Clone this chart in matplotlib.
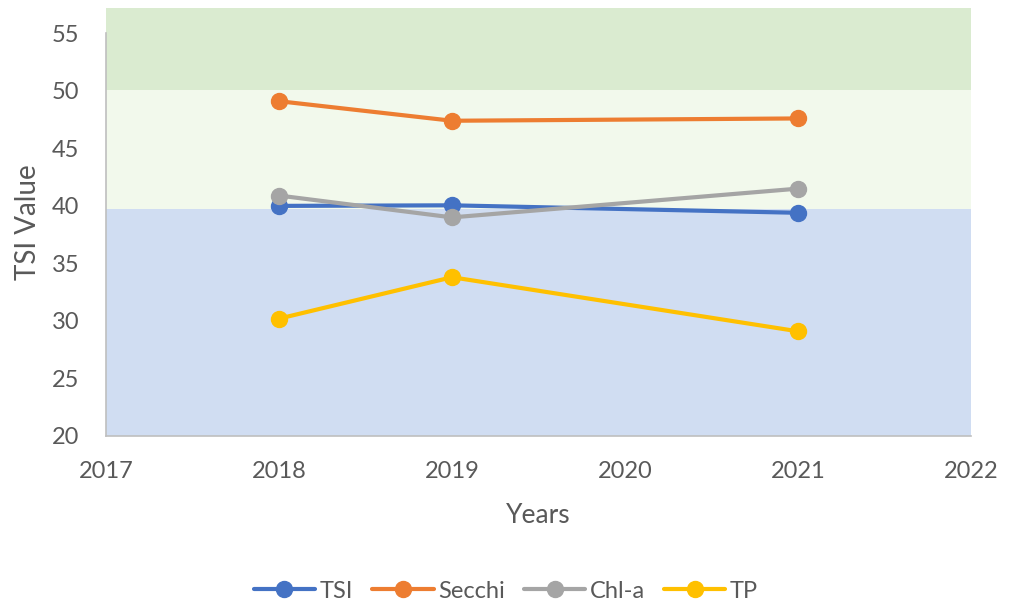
import matplotlib
matplotlib.use("Agg")
import matplotlib.pyplot as plt

years = [2018, 2019, 2021]
tsi = [40.0, 40.05, 39.4]
secchi = [49.1, 47.4, 47.6]
chla = [40.9, 39.0, 41.5]
tp = [30.2, 33.8, 29.1]

series_names = ["TSI", "Secchi", "Chl-a", "TP"]
series_values = [tsi, secchi, chla, tp]
series_colors = ["#4472C4", "#ED7D31", "#A5A5A5", "#FFC000"]

x_ticks = [2017, 2018, 2019, 2020, 2021, 2022]
y_ticks = [20, 25, 30, 35, 40, 45, 50, 55]

# background bands (lower, upper, colour)
bands = [(20, 39.7, "#D0DDF2"), (39.7, 50.1, "#F2F9EC"), (50.1, 57.2, "#DAEBD0")]

plt.rcParams['font.family'] = ['Lato', 'DejaVu Sans']
text_color = "#595959"

fig = plt.figure(figsize=(10.12, 6.04), dpi=100)
ax = fig.add_axes([106/1012, 1-436/604, (971-106)/1012, (436-8)/604])

for lo, hi, c in bands:
    ax.axhspan(lo, hi, color=c, zorder=0, lw=0)

for name, vals, col in zip(series_names, series_values, series_colors):
    ax.plot(years, vals, color=col, lw=3, marker='o', markersize=11.5,
            label=name, zorder=3, solid_capstyle='round')

ax.set_xlim(2017, 2022)
ax.set_ylim(20, 57.2)
ax.set_xticks(x_ticks)
ax.set_yticks(y_ticks)
ax.tick_params(axis='both', length=0, labelsize=17, colors=text_color)
ax.tick_params(axis='y', pad=19)
ax.tick_params(axis='x', pad=18)

for s in ['top', 'right']:
    ax.spines[s].set_visible(False)
ax.spines['left'].set_color('#BFBFBF')
ax.spines['bottom'].set_color('#BFBFBF')
ax.spines['left'].set_linewidth(1.2)
ax.spines['bottom'].set_linewidth(1.2)
ax.spines['left'].set_bounds(20, 55)

ax.set_xlabel("Years", fontsize=19, color=text_color, labelpad=15)
ax.set_ylabel("TSI Value", fontsize=20, color=text_color, labelpad=8)

fig.legend(loc='center', bbox_to_anchor=(0.5, 1-591/604), ncol=4, frameon=False,
           fontsize=17, handlelength=2.6, columnspacing=0.8, handletextpad=0.2,
           labelcolor=text_color)

fig.savefig("out.png", dpi=100)
